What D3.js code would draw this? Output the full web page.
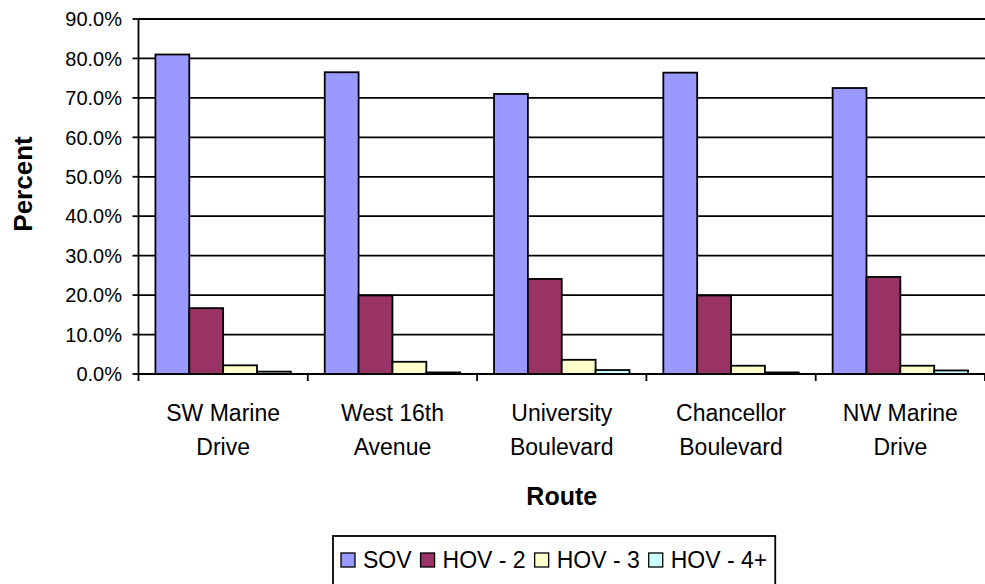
<!DOCTYPE html>
<html>
<head>
<meta charset="utf-8">
<script src="https://cdn.jsdelivr.net/npm/d3@7"></script>
<style>
  html, body { margin: 0; padding: 0; background: #fff; }
  svg { display: block; font-family: "Liberation Sans", Arial, sans-serif; }
</style>
</head>
<body>
<svg id="chart" width="985" height="584"></svg>
<script>
// ---- data ----
const categories = [["SW Marine", "Drive"], ["West 16th", "Avenue"], ["University", "Boulevard"], ["Chancellor", "Boulevard"], ["NW Marine", "Drive"]];
const seriesNames = ["SOV", "HOV - 2", "HOV - 3", "HOV - 4+"];
const seriesColors = ["#9999FF", "#993366", "#FFFFCC", "#CCFFFF"];
const sov   = [81.0, 76.5, 71.0, 76.4, 72.5];
const hov2  = [16.7, 19.9, 24.1, 19.9, 24.6];
const hov3  = [2.2, 3.1, 3.6, 2.1, 2.1];
const hov4  = [0.6, 0.4, 1.0, 0.4, 0.9];
const yTicks = [0, 10, 20, 30, 40, 50, 60, 70, 80, 90];
const xTitle = "Route";
const yTitle = "Percent";

const seriesValues = [sov, hov2, hov3, hov4];

// ---- layout ----
const svg = d3.select("#chart");
const pL = 138.5, pR = 985, pT = 19, pB = 374;
const LW = 1.8;

const y = d3.scaleLinear().domain([0, 90]).range([pB, pT]);
const x = d3.scaleBand().domain(d3.range(categories.length)).range([pL, pR]).paddingInner(0).paddingOuter(0);
const bw = x.bandwidth() / 5;

// gridlines
svg.append("g").selectAll("line").data(yTicks.filter(d => d > 0)).join("line")
  .attr("x1", pL).attr("x2", pR)
  .attr("y1", d => y(d)).attr("y2", d => y(d))
  .attr("stroke", "#000").attr("stroke-width", LW);

// bars
const groups = svg.append("g").selectAll("g").data(categories).join("g");
groups.each(function(c, i) {
  const g = d3.select(this);
  seriesValues.forEach((vals, s) => {
    const x0 = x(i) + bw * 0.5 + s * bw;
    g.append("rect")
      .attr("x", x0).attr("width", bw)
      .attr("y", y(vals[i])).attr("height", y(0) - y(vals[i]))
      .attr("fill", seriesColors[s]).attr("stroke", "#000").attr("stroke-width", LW);
  });
});

// y axis
const yAxis = svg.append("g");
yAxis.append("line").attr("x1", pL).attr("x2", pL).attr("y1", pT).attr("y2", pB)
  .attr("stroke", "#000").attr("stroke-width", LW);
yAxis.selectAll("line.tick").data(yTicks).join("line").attr("class", "tick")
  .attr("x1", pL - 6).attr("x2", pL)
  .attr("y1", d => y(d)).attr("y2", d => y(d))
  .attr("stroke", "#000").attr("stroke-width", LW);
yAxis.selectAll("text").data(yTicks).join("text")
  .attr("x", 122).attr("y", d => y(d)).attr("dy", "0.36em")
  .attr("text-anchor", "end").attr("font-size", 20).attr("fill", "#000")
  .text(d => d.toFixed(1) + "%");

// x axis
const xAxis = svg.append("g");
xAxis.append("line").attr("x1", pL).attr("x2", pR).attr("y1", pB).attr("y2", pB)
  .attr("stroke", "#000").attr("stroke-width", LW);
xAxis.selectAll("line.tick").data(d3.range(categories.length + 1)).join("line").attr("class", "tick")
  .attr("x1", d => pL + d * x.bandwidth()).attr("x2", d => pL + d * x.bandwidth())
  .attr("y1", pB).attr("y2", pB + 7)
  .attr("stroke", "#000").attr("stroke-width", LW);
const xl = xAxis.selectAll("text").data(categories).join("text")
  .attr("text-anchor", "middle").attr("font-size", 23).attr("fill", "#000");
xl.each(function(c, i) {
  const t = d3.select(this);
  c.forEach((line, k) => {
    t.append("tspan").attr("x", x(i) + x.bandwidth() / 2).attr("y", 421 + k * 34).text(line);
  });
});

// titles
svg.append("text").attr("x", (pL + pR) / 2).attr("y", 505)
  .attr("text-anchor", "middle").attr("font-size", 25).attr("font-weight", "bold").text(xTitle);
svg.append("text").attr("transform", `translate(32,184) rotate(-90)`)
  .attr("text-anchor", "middle").attr("font-size", 26).attr("font-weight", "bold").text(yTitle);

// legend
const lg = svg.append("g");
const box = lg.append("rect").attr("fill", "#fff").attr("stroke", "#000").attr("stroke-width", LW);
let cx = 0;
const itemX = [];
const itemG = [];
seriesNames.forEach((name, s) => {
  const it = lg.append("g");
  it.append("rect").attr("x", 0).attr("y", -15).attr("width", 14).attr("height", 14)
    .attr("fill", seriesColors[s]).attr("stroke", "#000").attr("stroke-width", 1.3);
  const tx = it.append("text").attr("x", 22).attr("y", 0).attr("font-size", 23).text(name);
  const w = 22 + tx.node().getComputedTextLength();
  itemX.push(cx); itemG.push(it);
  cx += w + 9;
});
const totalW = cx - 9;
const lx = 341;
itemG.forEach((it, k) => it.attr("transform", `translate(${itemX[k] + lx},568)`));
box.attr("x", lx - 8).attr("y", 536).attr("width", totalW + 16).attr("height", 60);
</script>
</body>
</html>
